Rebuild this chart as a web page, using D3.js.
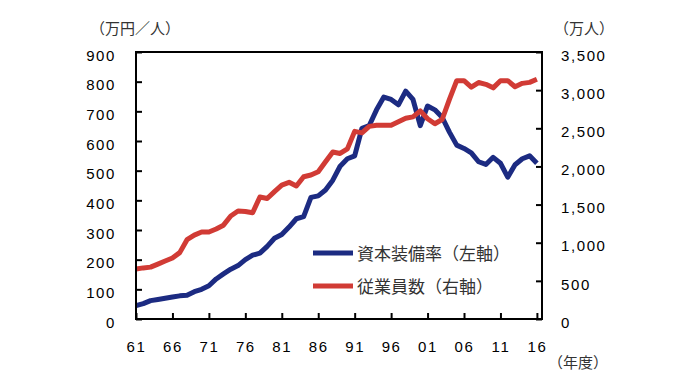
<!DOCTYPE html>
<html lang="ja">
<head>
<meta charset="UTF-8">
<title>資本装備率と従業員数</title>
<script src="https://cdn.jsdelivr.net/npm/d3@7/dist/d3.min.js"></script>
<style>
  body { margin: 0; background: #fff; }
  .tick text { font-family: "Liberation Sans", Arial, sans-serif; font-size: 15px; letter-spacing: 1.6px; fill: #000; }
  .jp { font-family: "Noto Sans CJK JP", sans-serif; }
</style>
</head>
<body>
<svg id="main" width="680" height="389"></svg>
<script>
    const years = d3.range(1961, 2017);
    // 資本装備率（万円／人） 左軸
    const capitalRatio = [45, 52, 62, 66, 70, 74, 78, 80, 92, 100,
        112, 135, 152, 168, 180, 200, 215, 222, 245, 272,
        285, 310, 338, 345, 410, 415, 435, 468, 515, 540,
        550, 643, 652, 705, 748, 740, 722, 768, 740, 652,
        718, 705, 680, 630, 586, 575, 560, 530, 521, 545,
        525, 478, 520, 540, 550, 525];
    // 従業員数（万人） 右軸
    const employees = [655, 670, 680, 720, 760, 800, 870, 1040, 1100, 1140,
        1140, 1180, 1230, 1350, 1415, 1410, 1393, 1600, 1580, 1670,
        1756, 1792, 1743, 1865, 1887, 1930, 2062, 2190, 2170, 2230,
        2460, 2440, 2525, 2539, 2539, 2539, 2585, 2631, 2650, 2728,
        2625, 2560, 2615, 2880, 3124, 3124, 3040, 3100, 3076, 3030,
        3124, 3124, 3045, 3089, 3102, 3142];

    const leftTicks = [0, 100, 200, 300, 400, 500, 600, 700, 800, 900];
    const rightTicks = [0, 500, 1000, 1500, 2000, 2500, 3000, 3500];
    const yearTicks = [1961, 1966, 1971, 1976, 1981, 1986, 1991, 1996, 2001, 2006, 2011, 2016];

    const series = [
        {name: '資本装備率（左軸）', values: capitalRatio, axis: 'left', color: '#1c2b82'},
        {name: '従業員数（右軸）', values: employees, axis: 'right', color: '#d13b35'}
    ];

    let svg = d3.select('svg#main');
    let plotLeft = 136, plotRight = 542, plotTop = 52, plotBottom = 319;

    let xScale = d3.scaleLinear().domain([1961, 2016.7]).range([plotLeft, plotRight]);
    let yLeft = d3.scaleLinear().domain([0, 900]).range([plotBottom, plotTop]);
    let yRight = d3.scaleLinear().domain([0, 3500]).range([plotBottom, plotTop]);

    // lines
    series.forEach(s => {
        let yS = s.axis === 'left' ? yLeft : yRight;
        let line = d3.line()
            .x((d, i) => xScale(years[i]))
            .y(d => yS(d));
        svg.append('path')
            .datum(s.values)
            .attr('d', line)
            .attr('fill', 'none')
            .attr('stroke', s.color)
            .attr('stroke-width', 5)
            .attr('stroke-linejoin', 'round');
    });

    // frame
    svg.append('rect')
        .attr('x', plotLeft).attr('y', plotTop)
        .attr('width', plotRight - plotLeft).attr('height', plotBottom - plotTop)
        .attr('fill', 'none').attr('stroke', '#000').attr('stroke-width', 2);

    let axL = svg.append('g')
        .attr('transform', 'translate(' + plotLeft + ',0)')
        .call(d3.axisLeft(yLeft).tickValues(leftTicks).tickSize(-6).tickSizeOuter(0).tickPadding(20));
    let axR = svg.append('g')
        .attr('transform', 'translate(' + plotRight + ',0)')
        .call(d3.axisRight(yRight).tickValues(rightTicks).tickFormat(d3.format(',')).tickSize(-6).tickSizeOuter(0).tickPadding(19));
    let axB = svg.append('g')
        .attr('transform', 'translate(0,' + plotBottom + ')')
        .call(d3.axisBottom(xScale).tickValues(yearTicks)
            .tickFormat(d => String(d % 100).padStart(2, '0'))
            .tickSize(-6).tickSizeOuter(0).tickPadding(22));

    [axL, axR, axB].forEach(a => {
        a.select('.domain').remove();
        a.selectAll('.tick line').attr('stroke', '#000').attr('stroke-width', 2);
    });
    axL.selectAll('.tick text').attr('dy', '0.55em');
    axR.selectAll('.tick text').attr('dy', '0.55em');

    // axis titles
    svg.append('text').attr('class', 'jp').attr('x', 90).attr('y', 34)
        .attr('font-size', 15).attr('fill', '#333').text('（万円／人）');
    svg.append('text').attr('class', 'jp').attr('x', 554).attr('y', 34)
        .attr('font-size', 15).attr('fill', '#333').text('（万人）');
    svg.append('text').attr('class', 'jp').attr('x', 548).attr('y', 368)
        .attr('font-size', 15).attr('fill', '#333').text('（年度）');

    // legend
    let legend = svg.selectAll('.legend').data(series).enter()
        .append('g').attr('class', 'legend')
        .attr('transform', (d, i) => 'translate(313,' + (253 + i * 33) + ')');
    legend.append('line')
        .attr('x1', 0).attr('x2', 40).attr('y1', 0).attr('y2', 0)
        .attr('stroke', d => d.color).attr('stroke-width', 5);
    legend.append('text').attr('class', 'jp')
        .attr('x', 44).attr('y', 7)
        .attr('font-size', 17).attr('fill', '#333')
        .text(d => d.name);
</script>
</body>
</html>
